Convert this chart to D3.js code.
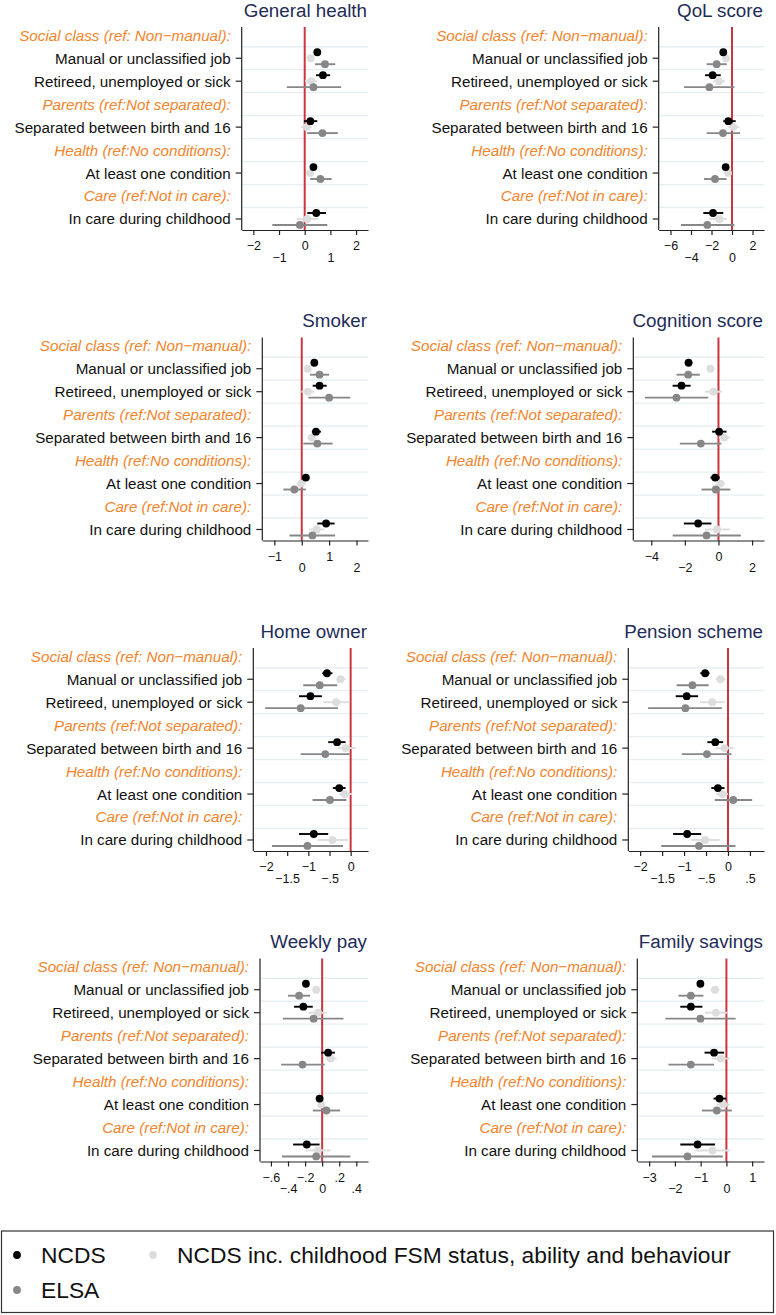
<!DOCTYPE html>
<html>
<head>
<meta charset="utf-8">
<script src="https://cdn.jsdelivr.net/npm/d3@7/dist/d3.min.js"></script>
<style>
  html, body { margin: 0; padding: 0; background: #fff; }
  svg { display: block; font-family: "Liberation Sans", Arial, Helvetica, sans-serif; }
</style>
</head>
<body>
<svg id="chart" width="776" height="1315"></svg>
<script>
// ---------------- DATA ----------------
const rowLabels = ["Social class (ref: Non\u2212manual):", "Manual or unclassified job", "Retireed, unemployed or sick",
  "Parents (ref:Not separated):", "Separated between birth and 16", "Health (ref:No conditions):",
  "At least one condition", "Care (ref:Not in care):", "In care during childhood"];
const headerRows = [0, 3, 5, 7];
const itemRows = [1, 2, 4, 6, 8];
const seriesNames = ["NCDS", "ELSA", "NCDS inc. childhood FSM status, ability and behaviour"];

const panelTitles = ["General health", "QoL score", "Smoker", "Cognition score",
  "Home owner", "Pension scheme", "Weekly pay", "Family savings"];

// [estimate, lower, upper] per item row
const generalHealthNCDS = [[0.49,0.41,0.57],[0.71,0.44,0.99],[0.22,-0.03,0.49],[0.34,0.21,0.47],[0.45,0.10,0.83]];
const generalHealthFSM  = [[0.23,0.15,0.31],[0.25,0.01,0.49],[0.08,-0.14,0.27],[0.21,0.05,0.36],[0.10,-0.31,0.53]];
const generalHealthELSA = [[0.79,0.40,1.19],[0.34,-0.70,1.42],[0.69,0.10,1.29],[0.61,0.21,1.05],[-0.19,-1.26,0.88]];

const qolNCDS = [[-0.85,-1.1,-0.6],[-1.89,-2.63,-1.1],[-0.36,-0.85,0.36],[-0.62,-0.9,-0.35],[-1.85,-2.8,-0.85]];
const qolFSM  = [[-0.59,-0.85,-0.33],[-1.27,-1.82,-0.68],[0.13,-0.36,0.72],[-0.39,-0.7,-0.05],[-1.24,-2.2,-0.52]];
const qolELSA = [[-1.5,-2.47,-0.52],[-2.21,-4.68,0.23],[-0.88,-2.47,0.78],[-1.66,-2.73,-0.52],[-2.41,-4.98,0.23]];

const smokerNCDS = [[0.46,0.38,0.54],[0.65,0.40,0.91],[0.52,0.37,0.70],[0.15,0.02,0.27],[0.89,0.57,1.2]];
const smokerFSM  = [[0.22,0.12,0.32],[0.22,-0.02,0.46],[0.37,0.21,0.52],[-0.02,-0.18,0.15],[0.55,0.27,0.83]];
const smokerELSA = [[0.65,0.30,1.0],[1.0,0.24,1.77],[0.57,0.06,1.13],[-0.27,-0.67,0.15],[0.39,-0.45,1.22]];

const cognitionNCDS = [[-1.78,-2.0,-1.56],[-2.2,-2.73,-1.66],[0.04,-0.38,0.48],[-0.2,-0.48,0.08],[-1.21,-2.06,-0.42]];
const cognitionFSM  = [[-0.48,-0.7,-0.26],[-0.30,-0.81,0.22],[0.34,0.02,0.67],[0.12,-0.16,0.38],[-0.08,-0.81,0.67]];
const cognitionELSA = [[-1.80,-2.5,-1.11],[-2.5,-4.38,-0.61],[-1.05,-2.3,0.18],[-0.16,-1.01,0.71],[-0.71,-2.73,1.33]];

const homeNCDS = [[-0.56,-0.67,-0.43],[-0.95,-1.22,-0.68],[-0.32,-0.53,-0.12],[-0.27,-0.42,-0.12],[-0.87,-1.22,-0.53]];
const homeFSM  = [[-0.24,-0.34,-0.12],[-0.34,-0.65,-0.02],[-0.12,-0.30,0.12],[-0.14,-0.27,0.03],[-0.43,-0.78,-0.06]];
const homeELSA = [[-0.73,-1.12,-0.32],[-1.18,-2.02,-0.30],[-0.60,-1.18,-0.02],[-0.49,-0.90,-0.10],[-1.02,-1.86,-0.18]];

const pensionNCDS = [[-0.52,-0.63,-0.42],[-0.94,-1.19,-0.68],[-0.29,-0.47,-0.11],[-0.23,-0.38,-0.08],[-0.93,-1.25,-0.61]];
const pensionFSM  = [[-0.17,-0.28,-0.06],[-0.36,-0.64,-0.07],[-0.08,-0.28,0.13],[-0.13,-0.27,0.0],[-0.52,-0.83,-0.19]];
const pensionELSA = [[-0.81,-1.17,-0.44],[-0.97,-1.82,-0.14],[-0.48,-1.05,0.08],[0.12,-0.30,0.55],[-0.66,-1.52,0.17]];

const weeklyPayNCDS = [[-0.19,-0.22,-0.16],[-0.22,-0.33,-0.11],[0.07,-0.01,0.15],[-0.03,-0.07,0.01],[-0.18,-0.34,-0.03]];
const weeklyPayFSM  = [[-0.07,-0.10,-0.04],[-0.05,-0.16,0.06],[0.10,0.04,0.17],[-0.01,-0.05,0.03],[-0.05,-0.19,0.10]];
const weeklyPayELSA = [[-0.27,-0.40,-0.14],[-0.10,-0.46,0.25],[-0.23,-0.48,0.03],[0.05,-0.11,0.21],[-0.07,-0.47,0.33]];

const savingsNCDS = [[-1.01,-1.12,-0.9],[-1.38,-1.79,-0.93],[-0.48,-0.85,-0.09],[-0.27,-0.50,-0.01],[-1.12,-1.79,-0.44]];
const savingsFSM  = [[-0.44,-0.61,-0.27],[-0.41,-0.83,0.04],[-0.22,-0.57,0.14],[-0.12,-0.37,0.14],[-0.54,-1.21,0.14]];
const savingsELSA = [[-1.38,-1.86,-0.89],[-1.01,-2.37,0.36],[-1.38,-2.25,-0.48],[-0.37,-0.95,0.21],[-1.51,-2.89,-0.14]];

const panelNCDS = [generalHealthNCDS, qolNCDS, smokerNCDS, cognitionNCDS, homeNCDS, pensionNCDS, weeklyPayNCDS, savingsNCDS];
const panelELSA = [generalHealthELSA, qolELSA, smokerELSA, cognitionELSA, homeELSA, pensionELSA, weeklyPayELSA, savingsELSA];
const panelFSM  = [generalHealthFSM, qolFSM, smokerFSM, cognitionFSM, homeFSM, pensionFSM, weeklyPayFSM, savingsFSM];

const panelTicks = [[-2,-1,0,1,2], [-6,-4,-2,0,2], [-1,0,1,2], [-4,-2,0,2],
  [-2,-1.5,-1,-0.5,0], [-2,-1.5,-1,-0.5,0,0.5], [-0.6,-0.4,-0.2,0,0.2,0.4], [-3,-2,-1,0,1]];
const panelDomains = [[-2.454,2.465], [-7.15,3.12], [-1.44,2.42], [-5.07,2.71],
  [-2.30,0.41], [-2.27,0.82], [-0.728,0.537], [-3.46,1.46]];

// ---------------- LAYOUT / STYLE ----------------
const panelAxisX = [241.7, 658.7, 262.3, 633.3, 253.3, 628.3, 260, 637.3];
const colRight = [368, 764];
const panelHeight = 310.5;
const plotTop = 27, plotBottom = 230;
const colors = { NCDS: "#000000", ELSA: "#878787", FSM: "#dddddd" };
const orange = "#f3842b";
const titleColor = "#1f2c58";
const gridColor = "#e5eef1";
const refColor = "#c9363e";

const svg = d3.select("#chart");

function fmtTick(v) {
  let s;
  if (Number.isInteger(v)) s = String(v);
  else s = String(v).replace(/^(-?)0\./, "$1.");
  return s.replace("-", "\u2212");
}

panelTitles.forEach((title, p) => {
  const col = p % 2, row = Math.floor(p / 2);
  const top = row * panelHeight;
  const g = svg.append("g").attr("transform", `translate(0,${top})`);
  const x0 = panelAxisX[p], x1 = colRight[col];
  const x = d3.scaleLinear().domain(panelDomains[p]).range([x0, x1]);
  const y = d3.scaleLinear().domain([-0.36, 8.48]).range([plotTop, plotBottom]);

  // title
  g.append("text").attr("x", x1 - 1).attr("y", 16.5)
    .attr("text-anchor", "end").attr("font-size", 18.8).attr("fill", titleColor).text(title);

  // gridlines between rows
  d3.range(8).forEach(i => {
    g.append("line").attr("x1", x0).attr("x2", x1)
      .attr("y1", y(i + 0.5)).attr("y2", y(i + 0.5))
      .attr("stroke", gridColor).attr("stroke-width", 1.3);
  });

  // reference line at 0
  g.append("line").attr("x1", x(0)).attr("x2", x(0)).attr("y1", plotTop).attr("y2", plotBottom)
    .attr("stroke", refColor).attr("stroke-width", 2);

  // row labels
  rowLabels.forEach((lab, i) => {
    const hdr = headerRows.includes(i);
    g.append("text").attr("x", x0 - 11).attr("y", y(i)).attr("dy", "0.36em")
      .attr("text-anchor", "end").attr("font-size", 15.2)
      .attr("font-style", hdr ? "italic" : "normal")
      .attr("fill", hdr ? orange : "#111").text(lab);
  });

  // y axis
  g.append("line").attr("x1", x0).attr("x2", x0).attr("y1", plotTop).attr("y2", plotBottom)
    .attr("stroke", "#222").attr("stroke-width", 1.2);
  itemRows.forEach(i => {
    g.append("line").attr("x1", x0 - 6).attr("x2", x0).attr("y1", y(i)).attr("y2", y(i))
      .attr("stroke", "#222").attr("stroke-width", 1.2);
  });

  // x axis
  const xAxis = d3.axisBottom(x).tickValues(panelTicks[p]).tickSize(5).tickSizeOuter(0).tickFormat(fmtTick);
  const ax = g.append("g").attr("transform", `translate(0,${plotBottom})`).call(xAxis);
  ax.select(".domain").attr("stroke", "#222").attr("stroke-width", 1.2);
  ax.selectAll(".tick line").attr("stroke", "#222").attr("stroke-width", 1.2);
  ax.selectAll(".tick text").attr("font-size", 12.5).attr("fill", "#111")
    .attr("font-family", "Liberation Sans, Arial, sans-serif")
    .attr("y", (d, i) => i % 2 === 0 ? 11.5 : 23).attr("dy", "0.71em");

  // series
  const series = [
    { data: panelFSM[p], color: colors.FSM, off: 0 },
    { data: panelELSA[p], color: colors.ELSA, off: 0.26 },
    { data: panelNCDS[p], color: colors.NCDS, off: -0.26 }
  ];
  series.forEach(s => {
    const sg = g.append("g");
    sg.selectAll("line").data(s.data).join("line")
      .attr("x1", d => x(d[1])).attr("x2", d => x(d[2]))
      .attr("y1", (d, k) => y(itemRows[k] + s.off)).attr("y2", (d, k) => y(itemRows[k] + s.off))
      .attr("stroke", s.color).attr("stroke-width", 1.9);
    sg.selectAll("circle").data(s.data).join("circle")
      .attr("cx", d => x(d[0])).attr("cy", (d, k) => y(itemRows[k] + s.off))
      .attr("r", 3.9).attr("fill", s.color);
  });
});

// ---------------- LEGEND ----------------
const lg = svg.append("g");
lg.append("rect").attr("x", 1.5).attr("y", 1231).attr("width", 772).attr("height", 81.5)
  .attr("fill", "none").attr("stroke", "#333").attr("stroke-width", 1.2);
const legendItems = [
  { name: seriesNames[0], color: colors.NCDS, cx: 17, cy: 1255 },
  { name: seriesNames[1], color: colors.ELSA, cx: 17, cy: 1290 },
  { name: seriesNames[2], color: colors.FSM, cx: 153, cy: 1255 }
];
legendItems.forEach(it => {
  lg.append("circle").attr("cx", it.cx).attr("cy", it.cy).attr("r", 3.9).attr("fill", it.color);
  lg.append("text").attr("x", it.cx + 24).attr("y", it.cy).attr("dy", "0.36em")
    .attr("font-size", 22.8).attr("fill", "#111").text(it.name);
});
</script>
</body>
</html>
